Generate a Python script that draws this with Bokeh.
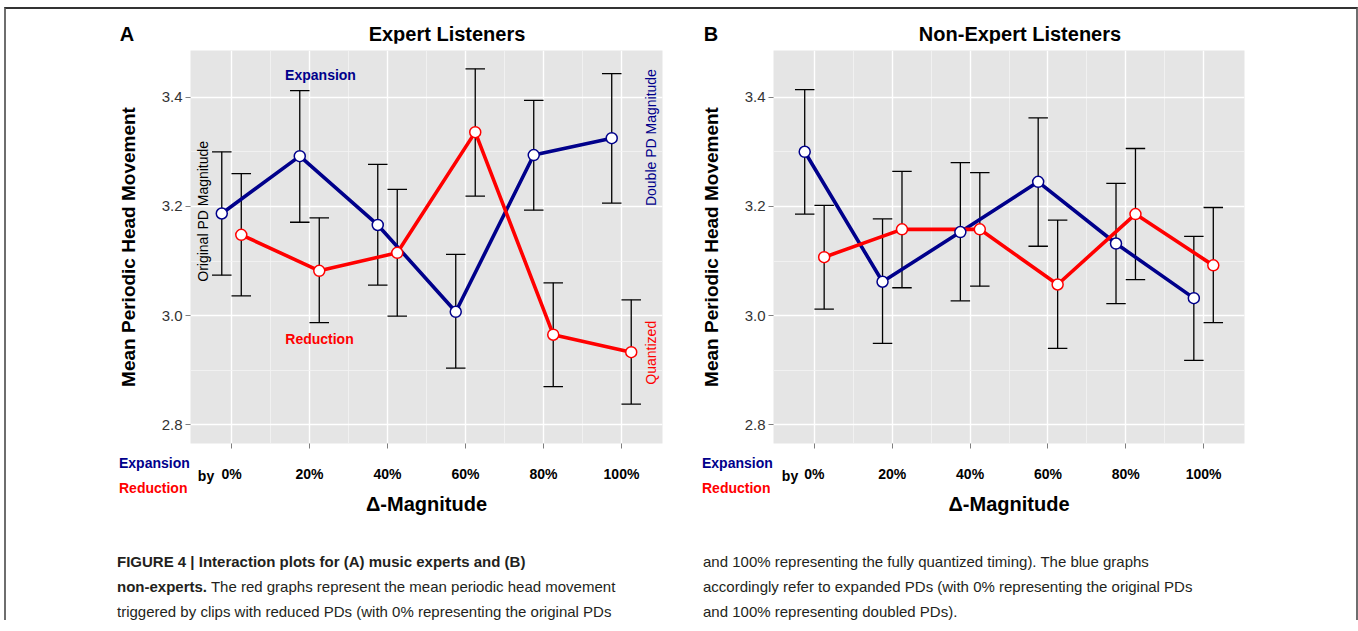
from bokeh.plotting import figure
from bokeh.models import Label, FixedTicker, Range1d, Div, PrintfTickFormatter
from bokeh.layouts import row, column
from bokeh.embed import file_html
from bokeh.resources import INLINE

# ---------------- data ----------------
categories = ["0%", "20%", "40%", "60%", "80%", "100%"]

# Panel A: Expert listeners
a_exp_mean = [3.187, 3.292, 3.166, 3.007, 3.294, 3.325]
a_exp_low = [3.074, 3.171, 3.056, 2.904, 3.193, 3.206]
a_exp_high = [3.300, 3.412, 3.277, 3.112, 3.394, 3.443]
a_red_mean = [3.148, 3.082, 3.115, 3.336, 2.965, 2.933]
a_red_low = [3.036, 2.987, 2.999, 3.219, 2.870, 2.838]
a_red_high = [3.260, 3.179, 3.231, 3.452, 3.060, 3.029]

# Panel B: Non-expert listeners
b_exp_mean = [3.300, 3.062, 3.153, 3.245, 3.132, 3.032]
b_exp_low = [3.186, 2.949, 3.027, 3.127, 3.022, 2.918]
b_exp_high = [3.414, 3.177, 3.280, 3.362, 3.242, 3.145]
b_red_mean = [3.107, 3.158, 3.158, 3.057, 3.186, 3.092]
b_red_low = [3.012, 3.051, 3.054, 2.940, 3.066, 2.987]
b_red_high = [3.202, 3.264, 3.262, 3.175, 3.306, 3.198]

y_ticks = [2.8, 3.0, 3.2, 3.4]
y_minor = [2.9, 3.1, 3.3]

panel_letters = ["A", "B"]
panel_titles = ["Expert Listeners", "Non-Expert Listeners"]
series_names = ["Expansion", "Reduction"]

# ---------------- style ----------------
FONT = "Liberation Sans"
NAVY = "#00008B"
RED = "#FF0000"
DODGE = 0.125
CAP = 0.125
XR = (0.474, 6.526)
YR = (2.7658, 3.4855)


def lab(p, x, y, text, size, color="black", bold=False, angle=0.0, align="center"):
    p.add_layout(Label(x=x, y=y, text=text, text_font=FONT, text_font_size=size,
                       text_font_style="bold" if bold else "normal", text_color=color,
                       text_align=align, text_baseline="middle", angle=angle))


def panel(exp_m, exp_lo, exp_hi, red_m, red_lo, red_hi, frame_w, min_left, min_right):
    p = figure(frame_width=frame_w, frame_height=393,
               min_border_left=min_left, min_border_right=min_right,
               min_border_top=7, min_border_bottom=87,
               x_range=Range1d(*XR), y_range=Range1d(*YR),
               output_backend="svg", toolbar_location=None)
    p.background_fill_color = "#E5E5E5"
    p.border_fill_color = "white"
    p.outline_line_color = None

    pos = list(range(1, len(categories) + 1))
    xt = FixedTicker(ticks=pos, minor_ticks=[i + 0.5 for i in pos[:-1]])
    yt = FixedTicker(ticks=y_ticks, minor_ticks=y_minor)
    p.xaxis.ticker = xt
    p.yaxis.ticker = yt
    p.xgrid.ticker = xt
    p.ygrid.ticker = yt
    for g in (p.xgrid, p.ygrid):
        g.grid_line_color = "white"
        g.grid_line_width = 1.4
        g.minor_grid_line_color = "#F4F4F4"
        g.minor_grid_line_width = 0.8

    p.xaxis.major_label_overrides = {i + 1: c for i, c in enumerate(categories)}
    p.yaxis.formatter = PrintfTickFormatter(format="%.1f")
    for ax in (p.xaxis, p.yaxis):
        ax.axis_line_color = None
        ax.major_tick_line_color = "#7F7F7F"
        ax.major_tick_in = 0
        ax.major_tick_out = 5
        ax.minor_tick_line_color = None
        ax.axis_label_text_font = FONT
        ax.axis_label_text_font_style = "bold"
        ax.axis_label_text_color = "black"
        ax.major_label_text_font = FONT
    p.xaxis.major_label_text_font_style = "bold"
    p.xaxis.major_label_text_font_size = "14px"
    p.xaxis.major_label_text_color = "black"
    p.xaxis.major_label_standoff = 17
    p.xaxis.axis_label = "Δ-Magnitude"
    p.xaxis.axis_label_text_font_size = "20px"
    p.xaxis.axis_label_standoff = 8
    p.yaxis.major_label_text_font_size = "15px"
    p.yaxis.major_label_text_color = "#333333"
    p.yaxis.major_label_standoff = 3
    p.yaxis.axis_label = "Mean Periodic Head Movement"
    p.yaxis.axis_label_text_font_size = "19px"
    p.yaxis.axis_label_standoff = 20

    xe = [i - DODGE for i in pos]
    xr = [i + DODGE for i in pos]
    # error bars
    for xs, lo, hi in ((xe, exp_lo, exp_hi), (xr, red_lo, red_hi)):
        p.segment(x0=xs, y0=lo, x1=xs, y1=hi, line_color="black", line_width=1.3)
        p.segment(x0=[x - CAP for x in xs], y0=hi, x1=[x + CAP for x in xs], y1=hi,
                  line_color="black", line_width=1.3)
        p.segment(x0=[x - CAP for x in xs], y0=lo, x1=[x + CAP for x in xs], y1=lo,
                  line_color="black", line_width=1.3)
    # lines
    p.line(xe, exp_m, line_color=NAVY, line_width=3.6)
    p.line(xr, red_m, line_color=RED, line_width=3.6)
    # points
    p.scatter(xe, exp_m, size=11, fill_color="white", line_color=NAVY, line_width=1.5)
    p.scatter(xr, red_m, size=11, fill_color="white", line_color=RED, line_width=1.5)
    return p


pA = panel(a_exp_mean, a_exp_low, a_exp_high, a_red_mean, a_red_low, a_red_high, 472, 184, 27)
pB = panel(b_exp_mean, b_exp_low, b_exp_high, b_red_mean, b_red_low, b_red_high, 471, 84, 105)

# in-panel annotations (panel A)
lab(pA, 2.141, 3.440, series_names[0], "14px", NAVY, bold=True)
lab(pA, 2.128, 2.958, series_names[1], "14px", RED, bold=True)
lab(pA, 0.628, 3.191, "Original PD Magnitude", "14px", "black", angle=1.5708)
lab(pA, 6.384, 3.326, "Double PD Magnitude", "14px", NAVY, angle=1.5708)
lab(pA, 6.384, 2.932, "Quantized", "14px", RED, angle=1.5708)

FAM = "font-family:'Liberation Sans',Arial,sans-serif;"

# header with panel letters and titles
head_items = [(panel_letters[0], 116), (panel_titles[0], 436), (panel_letters[1], 700), (panel_titles[1], 1009)]
head_html = ('<div style="position:relative;width:1340px;height:24px;' + FAM +
             'font-size:20px;font-weight:bold;line-height:20px;color:black;white-space:nowrap;">')
for t, cx in head_items:
    head_html += ('<div style="position:absolute;left:%dpx;top:10px;transform:translateX(-50%%);">%s</div>' % (cx, t))
head_html += "</div>"
header = Div(text=head_html, width=1340, height=24)

caption_left = [
    "<b>FIGURE 4 | Interaction plots for (A) music experts and (B)</b>",
    "<b>non-experts.</b> The red graphs represent the mean periodic head movement",
    "triggered by clips with reduced PDs (with 0% representing the original PDs",
]
caption_right = [
    "and 100% representing the fully quantized timing). The blue graphs",
    "accordingly refer to expanded PDs (with 0% representing the original PDs",
    "and 100% representing doubled PDs).",
]

# labels placed beside the x axes (drawn in overlay, above the caption)
side = ""
for lx, bx in ((108, 195), (691, 779)):
    side += ('<div style="position:absolute;left:%dpx;top:-80px;color:%s;">%s</div>' % (lx, NAVY, series_names[0]))
    side += ('<div style="position:absolute;left:%dpx;top:-55px;color:%s;">%s</div>' % (lx, RED, series_names[1]))
    side += ('<div style="position:absolute;left:%dpx;top:-67px;color:black;transform:translateX(-50%%);">by</div>' % bx)

html = (
    '<div style="position:relative;width:1340px;height:80px;' + FAM +
    'font-size:15px;line-height:25px;color:#231F20;white-space:nowrap;overflow:visible;">'
    '<div style="position:absolute;left:106px;top:14px;">' + "<br>".join(caption_left) + "</div>"
    '<div style="position:absolute;left:692px;top:14px;">' + "<br>".join(caption_right) + "</div>"
    '<div style="position:absolute;left:0px;top:0px;font-size:14px;font-weight:bold;line-height:17px;">' + side + "</div>"
    "</div>"
)
cap = Div(text=html, width=1340, height=80, styles={"overflow": "visible"})

layout = column(header, row(pA, pB), cap,
                styles={"border-left": "2px solid #6E6E6E", "border-right": "2px solid #6E6E6E",
                        "border-top": "2px solid #333333", "margin-top": "7px", "margin-left": "4px"})

open("out.html", "w").write(file_html(layout, INLINE))
